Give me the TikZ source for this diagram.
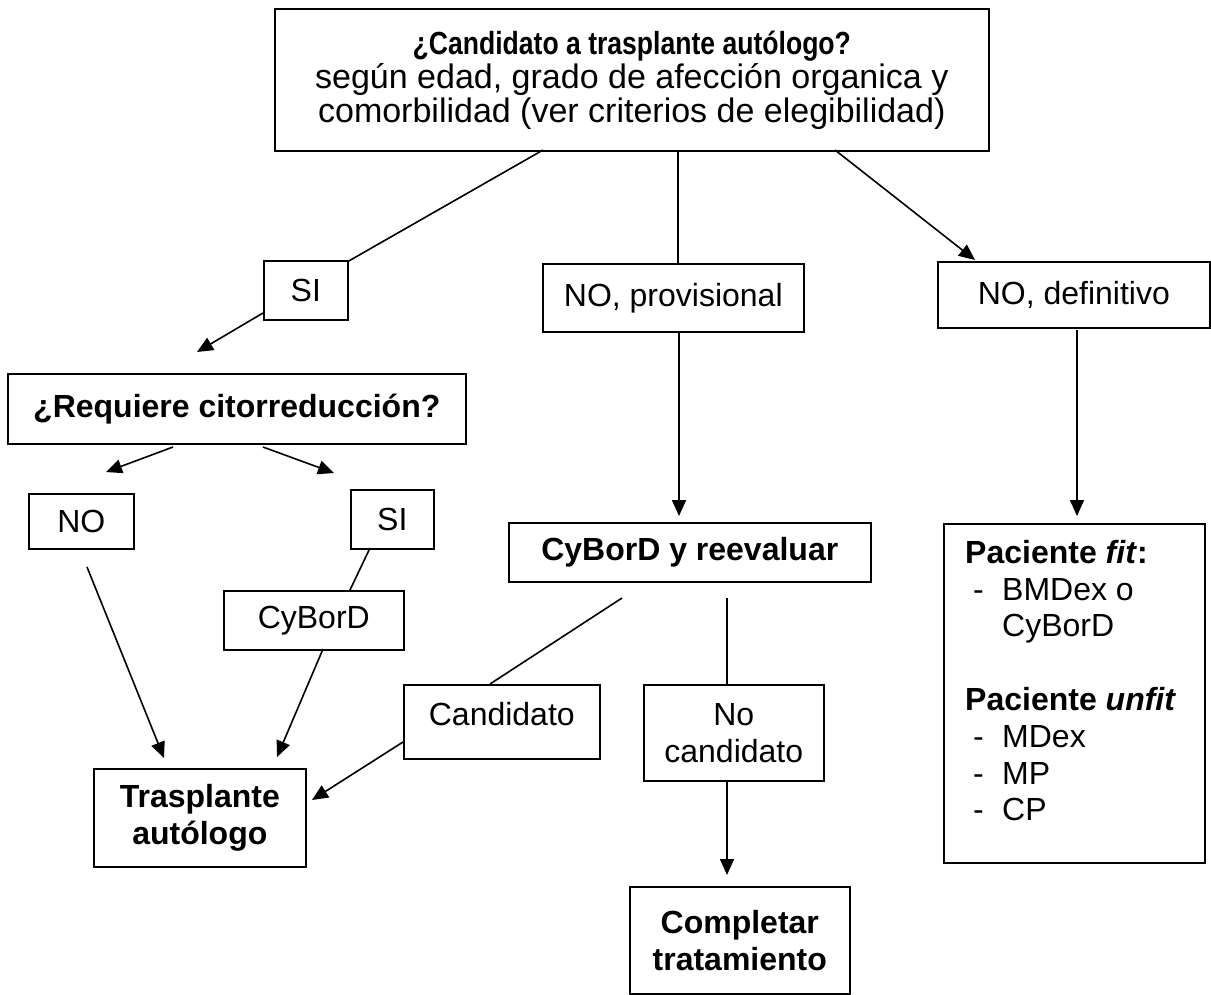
\documentclass[tikz,border=0pt]{standalone}
\usepackage{fontspec}
\setmainfont{Liberation Sans}
\newfontfamily\narrowfont[FakeStretch=0.83]{Liberation Sans}
\usetikzlibrary{arrows.meta}
\begin{document}
\begin{tikzpicture}[x=1pt,y=-1pt,
  box/.style={draw, line width=1.6pt, rectangle, inner sep=0pt, anchor=north west,
    font=\fontsize{32pt}{36.8pt}\selectfont, align=center},
  txt/.style={inner sep=0pt, font=\fontsize{32pt}{36.8pt}\selectfont, align=left},
  ln/.style={line width=1.6pt},
  arr/.style={ln, -{Triangle[length=16pt,width=14pt]}}]
\useasboundingbox[fill=white] (0,0) rectangle (1211,994);

% boxes
\node[box, minimum width=714, minimum height=142,
  font=\fontsize{34pt}{34pt}\selectfont] (top) at (274,8)
  {{\narrowfont\bfseries\fontsize{32pt}{34pt}\selectfont ¿Candidato a trasplante autólogo?}\\según edad, grado de afección organica y\\comorbilidad (ver criterios de elegibilidad)};
\node[box, minimum width=84, minimum height=59] (si1) at (263,260) {SI};
\node[box, minimum width=458, minimum height=70] (req) at (7,373) {\textbf{¿Requiere citorreducción?}};
\node[box, minimum width=105, minimum height=55] (no1) at (28,493) {NO};
\node[box, minimum width=83, minimum height=59] (si2) at (350,489) {SI};
\node[box, minimum width=180, minimum height=59] (cyb) at (223,590) {CyBorD};
\node[box, minimum width=212, minimum height=98] (trasp) at (93,768) {\textbf{Trasplante}\\\textbf{autólogo}};
\node[box, minimum width=261, minimum height=68] (prov) at (542,263) {NO, provisional};
\node[box, minimum width=362, minimum height=59] (reev) at (508,522) {\textbf{CyBorD y reevaluar}};
\node[box, minimum width=196, minimum height=74, text depth=15pt] (cand) at (403,684) {Candidato};
\node[box, minimum width=180, minimum height=96] (nocand) at (643,684) {No\\candidato};
\node[box, minimum width=220, minimum height=107] (compl) at (629,886) {\textbf{Completar}\\\textbf{tratamiento}};
\node[box, minimum width=272, minimum height=66] (def) at (937,261) {NO, definitivo};
\node[box, minimum width=261, minimum height=339] (pac) at (943,523) {};
\node[txt, anchor=north west] (pactxt) at (965,540)
  {\textbf{Paciente \textit{fit}:}\\
   \hspace*{8pt}\makebox[29pt][l]{-}BMDex o\\
   \hspace*{37pt}CyBorD\\[36.8pt]
   \textbf{Paciente \textit{unfit}}\\
   \hspace*{8pt}\makebox[29pt][l]{-}MDex\\
   \hspace*{8pt}\makebox[29pt][l]{-}MP\\
   \hspace*{8pt}\makebox[29pt][l]{-}CP};

% free connector ends
\coordinate (t1) at (543,150);
\coordinate (t2) at (678,150);
\coordinate (t3) at (835,150);
\coordinate (c1) at (347,262);
\coordinate (s1a) at (263,313);
\coordinate (s1b) at (197,352);
\coordinate (p1) at (678,263);
\coordinate (d1) at (975,260);
\coordinate (r1) at (173,447);
\coordinate (r1b) at (106,472);
\coordinate (r2) at (263,447);
\coordinate (r2b) at (334,473);
\coordinate (s2a) at (370,548);
\coordinate (s2b) at (350,590);
\coordinate (n1a) at (87,567);
\coordinate (n1b) at (164,758);
\coordinate (cya) at (323,649);
\coordinate (cyb2) at (277,757);
\coordinate (caa) at (403,742);
\coordinate (cab) at (312,800);
\coordinate (e1a) at (622,598);
\coordinate (e1b) at (490,684);
\coordinate (e2a) at (727,598);
\coordinate (e2b) at (727,684);
\coordinate (nca) at (727,780);
\coordinate (ncb) at (727,875);
\coordinate (pra) at (679,331);
\coordinate (prb) at (679,516);
\coordinate (dea) at (1077,330);
\coordinate (deb) at (1077,516);

% connectors
\draw[ln] (t1) -- (c1);
\draw[arr] (s1a) -- (s1b);
\draw[ln] (t2) -- (p1);
\draw[arr] (t3) -- (d1);
\draw[arr] (r1) -- (r1b);
\draw[arr] (r2) -- (r2b);
\draw[ln] (s2a) -- (s2b);
\draw[arr] (n1a) -- (n1b);
\draw[arr] (cya) -- (cyb2);
\draw[arr] (caa) -- (cab);
\draw[ln] (e1a) -- (e1b);
\draw[ln] (e2a) -- (e2b);
\draw[arr] (nca) -- (ncb);
\draw[arr] (pra) -- (prb);
\draw[arr] (dea) -- (deb);
\end{tikzpicture}
\end{document}
